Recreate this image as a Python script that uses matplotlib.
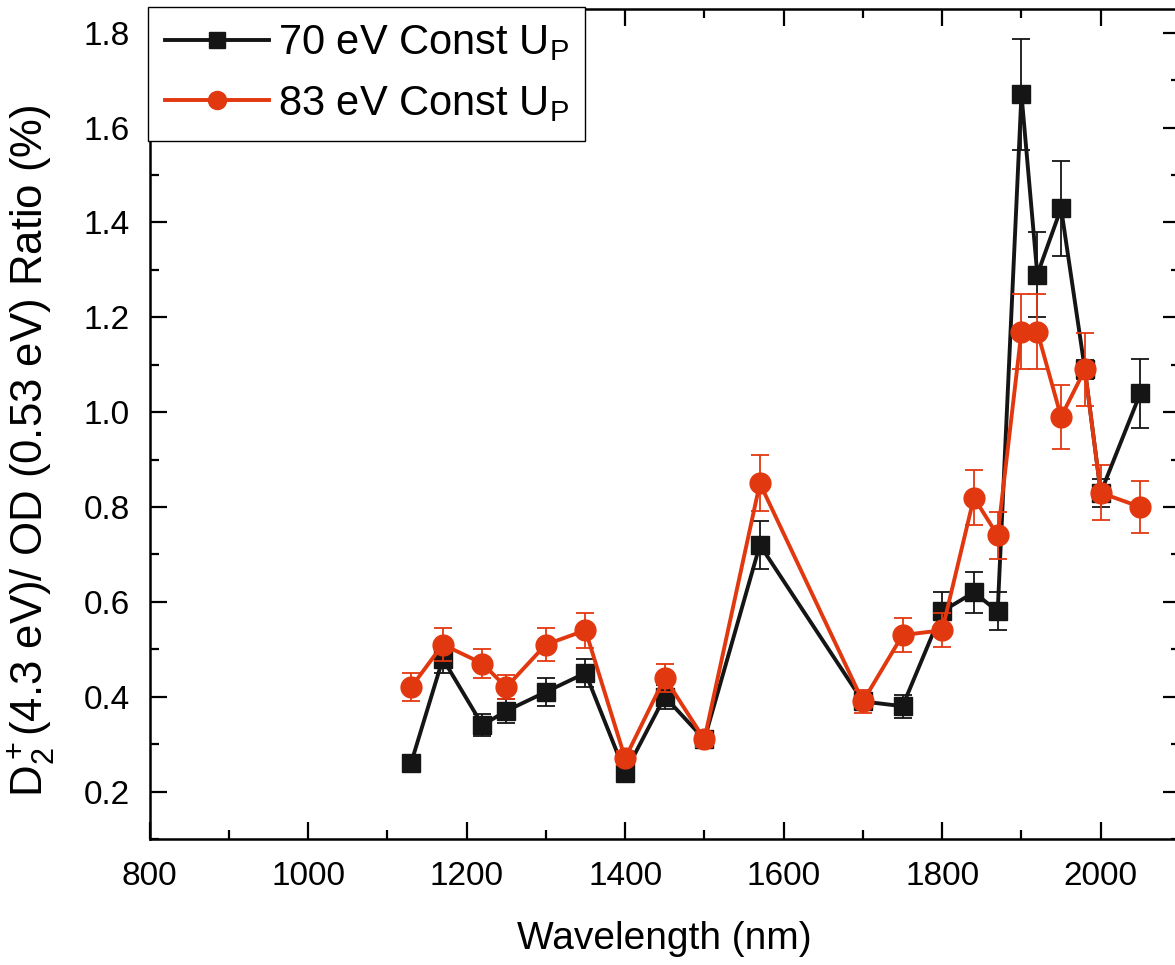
import matplotlib
matplotlib.use('Agg')
import matplotlib.pyplot as plt
from matplotlib.lines import Line2D
from matplotlib.ticker import MultipleLocator

plt.rcParams['font.family'] = ['Liberation Sans', 'DejaVu Sans']
plt.rcParams['mathtext.fontset'] = 'custom'
plt.rcParams['mathtext.rm'] = 'Liberation Sans'
plt.rcParams['mathtext.it'] = 'Liberation Sans'
plt.rcParams['mathtext.default'] = 'regular'

# wavelengths (nm)
wavelength = [1130, 1170, 1220, 1250, 1300, 1350, 1400, 1450, 1500, 1570,
              1700, 1750, 1800, 1840, 1870, 1900, 1920, 1950, 1980, 2000, 2050]

# 70 eV constant Up
ratio_70 = [0.26, 0.48, 0.34, 0.37, 0.41, 0.45, 0.24, 0.40, 0.31, 0.72,
            0.39, 0.38, 0.58, 0.62, 0.58, 1.67, 1.29, 1.43, 1.09, 0.83, 1.04]
err_70 = [0.01, 0.03, 0.023, 0.025, 0.03, 0.03, 0.01, 0.025, 0.015, 0.051,
          0.015, 0.024, 0.04, 0.043, 0.04, 0.117, 0.09, 0.1, 0.02, 0.03, 0.073]

# 83 eV constant Up
ratio_83 = [0.42, 0.51, 0.47, 0.42, 0.51, 0.54, 0.27, 0.44, 0.31, 0.85,
            0.39, 0.53, 0.54, 0.82, 0.74, 1.17, 1.17, 0.99, 1.09, 0.83, 0.80]
err_83 = [0.03, 0.035, 0.03, 0.025, 0.035, 0.037, 0.015, 0.03, 0.015, 0.059,
          0.025, 0.035, 0.036, 0.058, 0.05, 0.08, 0.08, 0.068, 0.077, 0.058, 0.055]

labels = ['70 eV Const U$_P$', '83 eV Const U$_P$']
black = '#151515'
red = '#e2380f'

fig = plt.figure(figsize=(11.75, 9.65), dpi=100)
ax = fig.add_axes([149.5 / 1175, 126 / 965, (1180 - 149.5) / 1175, (839 - 9) / 965])

ax.errorbar(wavelength, ratio_70, yerr=err_70, color=black, marker='s', markersize=13,
            linewidth=2.8, elinewidth=1.3, capsize=6.5, capthick=1.3, zorder=3)
ax.errorbar(wavelength, ratio_83, yerr=err_83, color=red, marker='o', markersize=15,
            linewidth=2.8, elinewidth=1.3, capsize=6.5, capthick=1.3, zorder=4)

ax.set_xlim(800, 2100)
ax.set_ylim(0.1, 1.85)
ax.xaxis.set_major_locator(MultipleLocator(200))
ax.xaxis.set_minor_locator(MultipleLocator(100))
ax.yaxis.set_major_locator(MultipleLocator(0.2))
ax.yaxis.set_minor_locator(MultipleLocator(0.1))
ax.yaxis.set_major_formatter(plt.FormatStrFormatter('%.1f'))

for s in ax.spines.values():
    s.set_linewidth(1.8)
ax.tick_params(which='both', direction='in', top=True, right=True, width=1.6, labelsize=24)
ax.tick_params(which='major', length=12)
ax.tick_params(which='minor', length=6.5)
ax.tick_params(axis='x', pad=16)
ax.tick_params(axis='y', pad=14)

ax.set_xlabel('Wavelength (nm)', fontsize=28, labelpad=21)
fig.text(31 / 1175, 1 - 451 / 965, r'D$_2^+$(4.3 eV)/ OD (0.53 eV) Ratio (%)',
         rotation=90, fontsize=31.5, ha='center', va='center')

# legend handles without the error bars
handles = [Line2D([], [], color=black, marker='s', markersize=11, linewidth=2.8),
           Line2D([], [], color=red, marker='o', markersize=13, linewidth=2.8)]
leg = ax.legend(handles, labels, loc='upper left', bbox_to_anchor=(-0.001, 1.003),
                borderaxespad=0, fontsize=30, handlelength=2.5, handletextpad=0.2,
                labelspacing=0.5, borderpad=0.4, fancybox=False, framealpha=1,
                edgecolor='black')
leg.get_frame().set_linewidth(1.0)
leg.set_zorder(10)

fig.savefig('out.png', dpi=100)
